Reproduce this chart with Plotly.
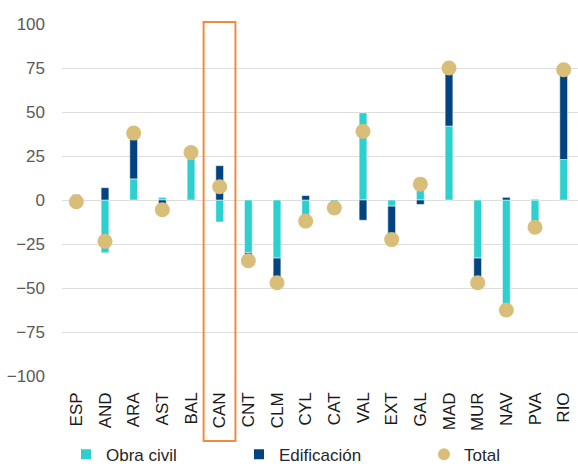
import plotly.graph_objects as go

regiones = ["ESP", "AND", "ARA", "AST", "BAL", "CAN", "CNT", "CLM", "CYL", "CAT",
            "VAL", "EXT", "GAL", "MAD", "MUR", "NAV", "PVA", "RIO"]
obra_civil = [-3.5, -30, 12, 1.5, 23, -12.5, -30, -33, -14.5, -3,
              49.5, -3.5, 11.5, 42, -33, -64, -15.5, 23]
edificacion = [3, 7, 26, -7, 4, 19.5, -4.5, -14, 2.5, -1.5,
               -11.5, -19, -2.5, 33, -14, 1.5, 0.3, 51]
total = [-1, -23.5, 38, -5.5, 27, 7.5, -34.5, -47, -12, -4.5,
         39, -22.5, 9, 75, -47, -62.5, -15.5, 74]

CYAN = "#2ECFCF"
NAVY = "#03437F"
GOLD = "#D8BE78"
FONT = "Liberation Sans, Arial, sans-serif"

fig = go.Figure()

fig.add_trace(go.Bar(
    x=regiones, y=obra_civil, name="Obra civil", legend="legend",
    marker=dict(color=CYAN, line=dict(color="white", width=0.5)),
    width=0.27
))
fig.add_trace(go.Bar(
    x=regiones, y=edificacion, name="Edificación", legend="legend2",
    marker=dict(color=NAVY, line=dict(color="white", width=0.5)),
    width=0.27
))
fig.add_trace(go.Scatter(
    x=regiones, y=total, name="Total", mode="markers", legend="legend3",
    marker=dict(color=GOLD, size=15)
))

# orange highlight box around CAN
fig.add_shape(
    type="rect", xref="x", yref="paper",
    x0=4.44, x1=5.55, y0=-0.185, y1=1.006,
    line=dict(color="#F28A3C", width=2), fillcolor="rgba(0,0,0,0)"
)

leg = dict(orientation="h", xref="container", yref="container",
           xanchor="left", y=0.024, yanchor="middle",
           font=dict(size=17, color="#262626"), bgcolor="rgba(0,0,0,0)",
           itemsizing="constant")

fig.update_layout(
    width=578, height=466,
    barmode="relative",
    paper_bgcolor="white", plot_bgcolor="white",
    font=dict(family=FONT, size=17, color="#595959"),
    margin=dict(l=62, r=0, t=24, b=90, autoexpand=False),
    showlegend=True,
    legend=dict(leg, x=66 / 578),
    legend2=dict(leg, x=239 / 578),
    legend3=dict(leg, x=424 / 578),
)

fig.update_xaxes(
    type="category", range=[-0.5, 17.5], automargin=False,
    tickangle=-90, tickfont=dict(size=17, color="#1A1A1A"),
    showgrid=False, showline=False, ticks="", ticklabelstandoff=12
)
fig.update_yaxes(
    range=[-100, 100], dtick=25, tick0=0, automargin=False,
    showgrid=True, gridcolor="#DDDDDD", gridwidth=1.3,
    zeroline=True, zerolinecolor="#DDDDDD", zerolinewidth=1.3,
    tickfont=dict(size=17, color="#595959"),
    ticks="", ticklabelstandoff=16
)

# page body has a default 8px margin; drop it so the figure fills the window
fig.write_html("out.html", config={"displayModeBar": False},
               post_script="document.body.style.margin='0';")
